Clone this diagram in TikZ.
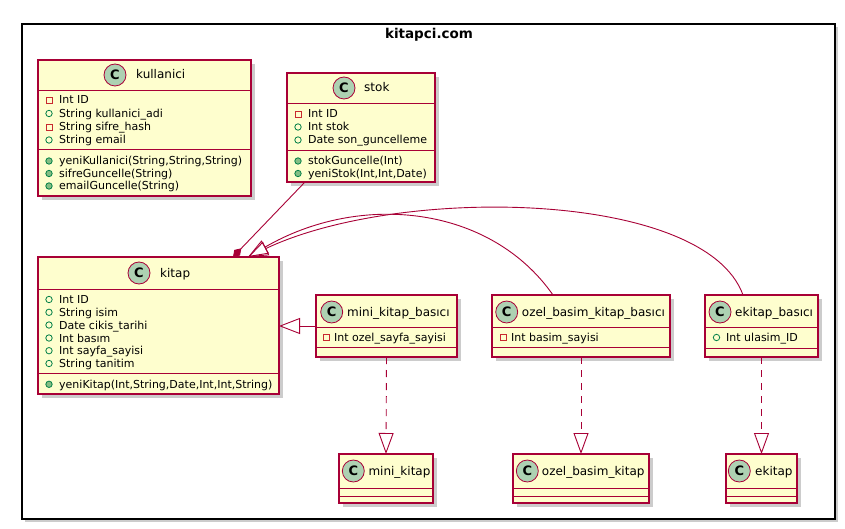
\documentclass[tikz,border=0pt]{standalone}
\usepackage{fontspec}
\setmainfont{DejaVu Sans}
\usetikzlibrary{arrows.meta,calc}
\definecolor{umlred}{HTML}{A80036}
\definecolor{umlfill}{HTML}{FEFECE}
\definecolor{umlcirc}{HTML}{ADD1B2}
\definecolor{privc}{HTML}{C82930}
\definecolor{pubc}{HTML}{038048}
\definecolor{pubf}{HTML}{84BE84}
\tikzset{
  classbox/.style={rectangle, draw=umlred, fill=umlfill, line width=1.1pt, inner sep=0pt, outer sep=0pt, anchor=north west},
  sepline/.style={draw=umlred, line width=1pt},
  boxshade/.style={fill=black!20},
  circ/.style={circle, draw=umlred, fill=umlcirc, line width=0.8pt, minimum size=22pt, inner sep=0pt, font=\fontsize{13}{13}\selectfont\bfseries},
  cname/.style={anchor=base west, inner sep=0pt, font=\fontsize{12}{14}\selectfont},
  attrtext/.style={anchor=base west, inner sep=0pt, font=\fontsize{11}{13}\selectfont},
  conn/.style={draw=umlred, line width=0.9pt},
  realize/.style={conn, dash pattern=on 7pt off 6pt},
  inh/.style={-{Triangle[open, length=20pt, width=15pt]}},
}
\newcommand\umlbox[7]{%
  \fill[boxshade] (#2+4,#3+4) rectangle (#4+4,#5+4);
  \node[classbox, minimum width={#4-#2}, minimum height={#5-#3}] (#1) at (#2,#3) {};
  \draw[sepline] (#2,#6) -- (#4,#6);
  \draw[sepline] (#2,#7) -- (#4,#7);
}
\newcommand\umlhead[5]{% name, cx, cy, textx, text
  \node[circ] (#1-c) at (#2,#3) {C};
  \node[cname] (#1-n) at (#4,#3+4) {#5};
}
\newcommand\privattr[5]{% name, iconx, y, textx, text
  \draw[privc, line width=0.8pt] (#2-3,#3-3) rectangle (#2+3,#3+3);
  \node[attrtext] (#1) at (#4,#3+4) {#5};
}
\newcommand\pubattr[5]{%
  \draw[pubc, line width=0.8pt] (#2,#3) circle (3.2pt);
  \node[attrtext] (#1) at (#4,#3+4) {#5};
}
\newcommand\pubmeth[5]{%
  \draw[pubc, fill=pubf, line width=0.8pt] (#2,#3) circle (3.2pt);
  \node[attrtext] (#1) at (#4,#3+4) {#5};
}
\begin{document}
\begin{tikzpicture}[x=1pt, y=-1pt]
\useasboundingbox (0,0) rectangle (845,529);
% package frame
\fill[black!20] (25,27) rectangle (838,522);
\node[rectangle, draw=black, fill=white, line width=1.3pt, inner sep=0pt, outer sep=0pt, anchor=north west, minimum width=813pt, minimum height=495pt] (pkg) at (22,24) {};
\node[font=\fontsize{13.5}{15}\selectfont\bfseries, anchor=base, inner sep=0pt] (pkg-t) at (429,39) {kitapci.com};

% kullanici
\umlbox{kull}{38}{60}{251}{196}{91}{150}
\umlhead{kull}{115}{75}{136}{kullanici}
\privattr{kull-a1}{49}{100}{59}{Int ID}
\pubattr{kull-a2}{49}{113.5}{59}{String kullanici\_adi}
\privattr{kull-a3}{49}{127}{59}{String sifre\_hash}
\pubattr{kull-a4}{49}{140}{59}{String email}
\pubmeth{kull-m1}{49}{161}{59}{yeniKullanici(String,String,String)}
\pubmeth{kull-m2}{49}{173.5}{59}{sifreGuncelle(String)}
\pubmeth{kull-m3}{49}{186}{59}{emailGuncelle(String)}

% stok
\umlbox{stok}{287}{73}{435}{182}{104}{151}
\umlhead{stok}{344}{88}{364}{stok}
\privattr{stok-a1}{298}{114}{308}{Int ID}
\pubattr{stok-a2}{298}{127}{308}{Int stok}
\pubattr{stok-a3}{298}{140}{308}{Date son\_guncelleme}
\pubmeth{stok-m1}{298}{161}{308}{stokGuncelle(Int)}
\pubmeth{stok-m2}{298}{173.5}{308}{yeniStok(Int,Int,Date)}

% kitap
\umlbox{kitap}{38}{257}{279}{394}{289}{373}
\umlhead{kitap}{139}{273}{160}{kitap}
\pubattr{kitap-a1}{49}{299.5}{59}{Int ID}
\pubattr{kitap-a2}{49}{312.3}{59}{String isim}
\pubattr{kitap-a3}{49}{325}{59}{Date cikis\_tarihi}
\pubattr{kitap-a4}{49}{338}{59}{Int basım}
\pubattr{kitap-a5}{49}{350.7}{59}{Int sayfa\_sayisi}
\pubattr{kitap-a6}{49}{363.5}{59}{String tanitim}
\pubmeth{kitap-m1}{49}{384.3}{59}{yeniKitap(Int,String,Date,Int,Int,String)}

% mini_kitap_basici
\umlbox{mkb}{316}{295}{457}{357}{327}{347}
\umlhead{mkb}{331.7}{312}{347}{mini\_kitap\_basıcı}
\privattr{mkb-a1}{326}{337.5}{334}{Int ozel\_sayfa\_sayisi}

% ozel_basim_kitap_basici
\umlbox{obkb}{492}{295}{670}{357}{327}{347}
\umlhead{obkb}{506.7}{312}{521.7}{ozel\_basim\_kitap\_basıcı}
\privattr{obkb-a1}{503}{337.5}{511}{Int basim\_sayisi}

% ekitap_basici
\umlbox{ekb}{705}{295}{818}{357}{327}{348}
\umlhead{ekb}{720}{312}{735}{ekitap\_basıcı}
\pubattr{ekb-a1}{716.5}{337.5}{726}{Int ulasim\_ID}

% bottom row
\umlbox{mk}{339}{454}{433}{503}{488}{496}
\umlhead{mk}{353.3}{471}{368.3}{mini\_kitap}
\umlbox{obk}{513}{454}{649}{503}{488}{496}
\umlhead{obk}{527.3}{471}{541.7}{ozel\_basim\_kitap}
\umlbox{ek}{726}{454}{797}{503}{488}{496}
\umlhead{ek}{739.3}{471}{755}{ekitap}

% connectors
\draw[conn, {Diamond[length=12pt, width=8pt]}-] ($(kitap.north west)+(195,0)$) -- ($(stok.south west)+(18,0)$);
\draw[conn, inh] ($(ekb.north west)+(38,0)$) .. controls (705,190) and (400,185) .. ($(kitap.north west)+(210,0)$);
\draw[conn, inh] ($(obkb.north west)+(61,0)$) .. controls (490,205) and (360,192) .. ($(kitap.north west)+(210,0)$);
\draw[conn, -{Triangle[open, length=21pt, width=16pt]}] (mkb.west) -- (kitap.east |- mkb.west);
\draw[realize, -{Triangle[open, length=21pt, width=15pt]}] (mkb.south) -- (mk.north);
\draw[realize, -{Triangle[open, length=21pt, width=15pt]}] (obkb.south) -- (obk.north);
\draw[realize, -{Triangle[open, length=21pt, width=15pt]}] (ekb.south) -- (ek.north);
\end{tikzpicture}
\end{document}
